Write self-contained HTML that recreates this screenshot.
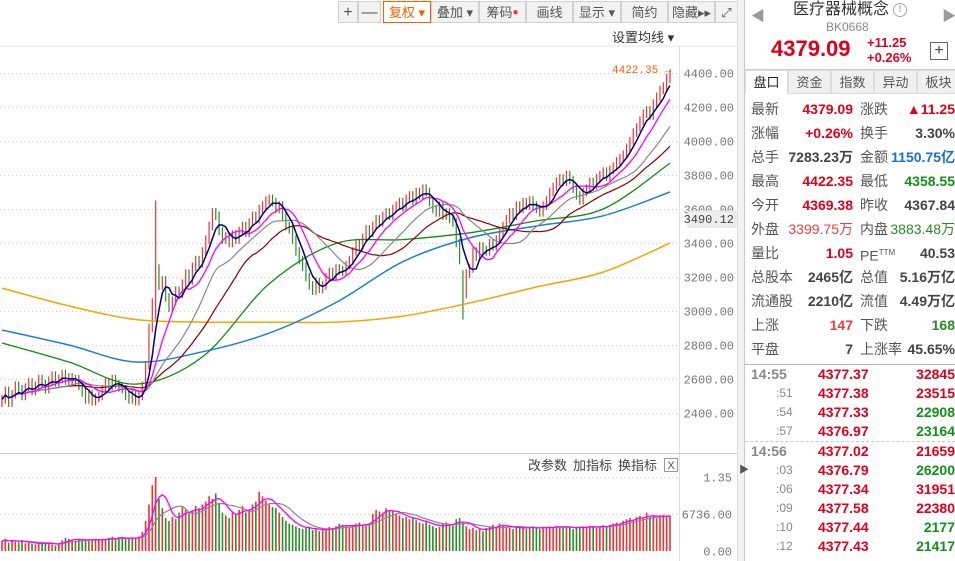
<!DOCTYPE html>
<html><head><meta charset="utf-8">
<style>
body{margin:0;width:955px;height:561px;overflow:hidden;background:#fff;font-family:"Liberation Sans","Noto Sans CJK SC",sans-serif;position:relative}
.abs{position:absolute}
.tb{position:absolute;top:1px;height:22px;border:1px solid #d0d0d0;background:#f2f2f2;color:#555;font-size:13px;line-height:22px;text-align:center;box-sizing:border-box}
.row{position:absolute;left:751px;width:204px;height:22px;font-size:14px;line-height:22px;color:#555}
.row span{position:absolute}
.l1{left:0}.v1{right:102px;font-weight:bold}.l2{left:109px}.v2{right:0;font-weight:bold}
.red{color:#e0001a}.grn{color:#11901b}.dk{color:#444}.blu{color:#1a6fd0}
.tr{position:absolute;left:751px;width:204px;height:19px;font-size:14px;line-height:19px;font-weight:bold}
.tr span{position:absolute}
.tab{position:absolute;top:70px;height:24px;width:43px;border:1px solid #ddd;background:#f0f0f0;color:#555;font-size:13px;line-height:24px;text-align:center;box-sizing:border-box}
</style></head><body>
<!-- toolbar -->
<div class="tb" style="left:338px;width:20px;font-size:16px">+</div>
<div class="tb" style="left:358px;width:23px;font-size:16px">—</div>
<div class="tb" style="left:383px;width:48px;border-color:#f06000;color:#f06000;background:#fff">复权 ▾</div>
<div class="tb" style="left:431px;width:48px">叠加 ▾</div>
<div class="tb" style="left:479px;width:47px">筹码<span style="color:#f33;font-size:10px;vertical-align:top">●</span></div>
<div class="tb" style="left:526px;width:47px">画线</div>
<div class="tb" style="left:573px;width:48px">显示 ▾</div>
<div class="tb" style="left:621px;width:47px">简约</div>
<div class="tb" style="left:668px;width:47px">隐藏▸▸</div>
<div class="tb" style="left:715px;width:23px">⤢</div>
<div class="abs" style="left:612px;top:27px;font-size:13px;color:#333">设置均线 ▾</div>

<svg id="chart" class="abs" style="left:0;top:0" width="745" height="561"></svg>

<!-- right panel -->
<div class="abs" style="left:737px;top:0;width:8px;height:561px;background:#f2f2f2;border-left:1px solid #ddd;border-right:1px solid #ccc;box-sizing:border-box"></div>
<div class="abs" style="left:739px;top:461px;font-size:10px;color:#555">▶</div>
<div class="abs" style="left:751px;top:6px;color:#999;font-size:14px">◀</div>
<div class="abs" style="left:942px;top:6px;color:#999;font-size:14px">▶</div>
<div class="abs" style="left:793px;top:0px;font-size:16px;line-height:20px;color:#333">医疗器械概念</div>
<div class="abs" style="left:893px;top:3px;width:12px;height:12px;border:1.5px solid #aaa;border-radius:50%;font-size:10px;line-height:12px;text-align:center;color:#aaa;font-weight:bold">!</div>
<div class="abs" style="left:826px;top:21px;font-size:12px;line-height:13px;color:#888">BK0668</div>
<div class="abs red" style="left:771px;top:36px;font-size:22px;font-weight:bold">4379.09</div>
<div class="abs red" style="left:867px;top:35px;font-size:13px;font-weight:bold">+11.25</div>
<div class="abs red" style="left:867px;top:50px;font-size:13px;font-weight:bold">+0.26%</div>
<div class="abs" style="left:930px;top:42px;width:16px;height:16px;border:1px solid #666;font-size:16px;line-height:15px;text-align:center;color:#444">+</div>
<div class="abs" style="left:745px;top:69px;width:210px;height:1px;background:#ccc"></div>
<div class="tab" style="left:745px;background:#fff;color:#222;border-bottom-color:#fff">盘口</div>
<div class="tab" style="left:788px">资金</div>
<div class="tab" style="left:831px">指数</div>
<div class="tab" style="left:874px">异动</div>
<div class="tab" style="left:917px">板块</div>

<div class="row" style="top:98px"><span class="l1">最新</span><span class="v1 red">4379.09</span><span class="l2">涨跌</span><span class="v2 red">▲11.25</span></div>
<div class="row" style="top:122px"><span class="l1">涨幅</span><span class="v1 red">+0.26%</span><span class="l2">换手</span><span class="v2 dk">3.30%</span></div>
<div class="row" style="top:146px"><span class="l1">总手</span><span class="v1 dk">7283.23万</span><span class="l2">金额</span><span class="v2 blu">1150.75亿</span></div>
<div class="row" style="top:170px"><span class="l1">最高</span><span class="v1 red">4422.35</span><span class="l2">最低</span><span class="v2 grn">4358.55</span></div>
<div class="row" style="top:194px"><span class="l1">今开</span><span class="v1 red">4369.38</span><span class="l2">昨收</span><span class="v2 dk">4367.84</span></div>
<div class="row" style="top:218px"><span class="l1">外盘</span><span class="v1" style="color:#e84040;font-weight:normal">3399.75万</span><span class="l2">内盘</span><span class="v2" style="color:#2a8a2a;font-weight:normal">3883.48万</span></div>
<div class="row" style="top:242px"><span class="l1">量比</span><span class="v1 red">1.05</span><span class="l2">PE<sup style="font-size:8px">TTM</sup></span><span class="v2 dk">40.53</span></div>
<div class="row" style="top:266px"><span class="l1">总股本</span><span class="v1 dk">2465亿</span><span class="l2">总值</span><span class="v2 dk">5.16万亿</span></div>
<div class="row" style="top:290px"><span class="l1">流通股</span><span class="v1 dk">2210亿</span><span class="l2">流值</span><span class="v2 dk">4.49万亿</span></div>
<div class="row" style="top:314px"><span class="l1">上涨</span><span class="v1" style="color:#e84040">147</span><span class="l2">下跌</span><span class="v2" style="color:#2a8a2a">168</span></div>
<div class="row" style="top:338px"><span class="l1">平盘</span><span class="v1 dk">7</span><span class="l2">上涨率</span><span class="v2 dk">45.65%</span></div>
<div class="abs" style="left:745px;top:364px;width:210px;height:1px;background:#bbb"></div>
<div id="trades"></div>
<div class="abs" style="left:745px;top:441px;width:210px;border-top:1px dashed #ccc"></div>

<script>
// ---- price data ----
const closes=[2480,2530,2460,2510,2560,2540,2500,2550,2580,2530,
2560,2600,2570,2540,2590,2620,2580,2600,2630,2590,
2610,2580,2600,2560,2520,2480,2510,2470,2490,2500,
2540,2580,2560,2600,2570,2550,2540,2500,2480,2510,
2470,2500,2560,2680,
2900,3050,3250,3150,3180,3080,3020,
3060,3120,3100,3160,3220,3180,3260,3300,3280,
3350,3420,3500,3580,3560,3470,3420,3440,3400,
3450,3420,3470,3500,3460,3520,3560,3540,3600,3620,3650,3660,3640,
3600,3620,3560,3500,3480,3420,3350,3300,3260,3200,3150,3120,3170,3130,3150,
3200,3230,3210,3250,3240,3230,3270,3300,3350,3400,3380,3430,3480,3460,3500,3540,3520,3560,3580,3560,
3600,3620,3640,3610,3660,3680,3650,3700,3680,3720,3700,3640,3600,3580,3620,3560,3580,3540,
3520,3400,3300,3100,3220,3250,3350,3320,3380,3360,3350,3400,3380,3420,3460,3500,
3540,3580,3560,3620,3600,3640,3620,3650,3620,3600,3580,3620,3650,3700,3730,3760,
3780,3760,3800,3770,3720,3680,3650,3700,3720,3760,3740,3780,3800,3820,3790,3830,3850,
3880,3900,3920,3960,4000,4050,4080,4120,4160,4180,4150,4220,4260,4300,4320,4370,4379];
const spikeIdx=[46,138,200];
const spikeHigh=[3650,3240,4422];
const spikeLow=[2950,2950,4340];
// long moving averages sampled every 20 bars (i=0,20,...,200)
const ma60=[2812,2700,2570,2730,3160,3397,3420,3460,3530,3600,3870];
const ma120=[2888,2800,2700,2760,2870,3050,3290,3430,3500,3560,3700];
const ma250=[3135,3030,2950,2935,2935,2935,2970,3047,3141,3229,3400];
const priceTicks=[4400,4200,4000,3800,3600,3400,3200,3000,2800,2600,2400];
// ---- volume data (万) ----
const volumes=[0.18,0.22,0.15,0.2,0.17,0.16,0.2,0.14,0.15,0.13,0.12,0.14,0.16,0.13,0.15,0.12,0.1,0.14,0.2,0.24,0.22,0.2,0.19,0.21,0.22,0.2,0.19,0.2,0.22,0.21,0.2,0.22,0.24,0.26,0.22,0.25,0.24,0.22,0.23,0.25,0.24,0.26,0.35,0.55,
0.85,1.2,1.35,0.95,0.78,0.6,0.55,
0.62,0.58,0.7,0.8,0.75,0.68,0.72,0.82,0.78,
0.85,0.9,1.0,0.95,1.05,0.88,0.7,0.65,0.6,
0.72,0.68,0.75,0.82,0.7,0.76,0.85,0.9,1.08,1.0,0.92,0.85,0.8,
0.78,0.7,0.62,0.55,0.5,0.48,0.45,0.42,0.4,0.42,0.44,0.38,0.4,0.36,0.38,
0.4,0.44,0.42,0.45,0.5,0.48,0.46,0.42,0.45,0.5,0.52,0.48,0.46,0.5,0.68,0.75,0.72,0.7,0.78,0.74,
0.72,0.68,0.65,0.6,0.62,0.58,0.6,0.56,0.52,0.5,0.55,0.48,0.45,0.42,0.44,0.5,0.52,0.48,
0.46,0.58,0.6,0.52,0.45,0.4,0.42,0.38,0.4,0.36,0.42,0.45,0.48,0.44,0.5,0.46,
0.44,0.42,0.4,0.43,0.45,0.42,0.4,0.43,0.45,0.42,0.4,0.44,0.42,0.45,0.43,0.46,
0.44,0.42,0.45,0.43,0.4,0.42,0.44,0.45,0.43,0.46,0.44,0.42,0.45,0.47,0.45,0.48,0.5,
0.52,0.5,0.55,0.58,0.6,0.56,0.62,0.64,0.6,0.7,0.62,0.65,0.6,0.62,0.66,0.64,0.65];
// ---- trade list ----
const tTimes=["14:55",":51",":54",":57","14:56",":03",":06",":09",":10",":12"];
const tPrices=["4377.37","4377.38","4377.33","4376.97","4377.02","4376.79","4377.34","4377.58","4377.44","4377.43"];
const tVols=["32845","23515","22908","23164","21659","26200","31951","22380","2177","21417"];
const tUp=[1,1,0,0,1,0,1,1,0,0];

const NS="http://www.w3.org/2000/svg";
const svg=document.getElementById('chart');
const N=closes.length;
const xOf=i=>2+i*3.34;
const yP=v=>73+(4400-v)*0.17;
const yV=v=>551-v/1.35*74;
function mk(tag,attrs,parent){const e=document.createElementNS(NS,tag);for(const k in attrs)e.setAttribute(k,attrs[k]);(parent||svg).appendChild(e);return e;}

let e;
e=mk('line',{x1:0,y1:46,x2:737,y2:46,stroke:'#e4e4e4'});


e=mk('line',{x1:679.5,y1:46,x2:679.5,y2:561,stroke:'#ddd'});


e=mk('line',{x1:0,y1:453.5,x2:737,y2:453.5,stroke:'#ccc'});



priceTicks.forEach(v=>{
  const y=Math.round(yP(v))+0.5;
  const g=mk('line',{x1:0,y1:y,x2:679,y2:y,stroke:'#ccc','stroke-dasharray':'1,3'});
  
  
  const t=mk('text',{x:734,y:y+4,'text-anchor':'end','font-size':12,fill:'#777','font-family':'Liberation Mono, monospace'});
  t.textContent=v.toFixed(2);
  
  
});
[[1.35,'1.35'],[0.6736,'6736.00'],[0,'0.00']].forEach(p=>{
  const y=Math.round(yV(p[0]))+0.5;
  if(p[0]>0){const g=mk('line',{x1:0,y1:y,x2:679,y2:y,stroke:'#ccc','stroke-dasharray':'1,3'});
  
  }
  const t=mk('text',{x:732,y:y+4,'text-anchor':'end','font-size':12,fill:'#777','font-family':'Liberation Mono, monospace'});
  t.textContent=p[1];
  
  
});

const opens=closes.map((c,i)=>i?closes[i-1]:c-20);
for(let i=0;i<N;i++){
  const o=opens[i],c=closes[i];
  let hi=Math.max(o,c)+25,lo=Math.min(o,c)-25;
  const s=spikeIdx.indexOf(i);
  if(s>=0){hi=spikeHigh[s];lo=spikeLow[s];}
  const up=c>=o;const col=up?'#ee3333':'#2b8c2b';
  const x=xOf(i);
  const w=mk('line',{x1:x,y1:yP(hi),x2:x,y2:yP(lo),stroke:col,'stroke-width':1.2});
  
  
}
function maSeries(p){return closes.map((c,i)=>{const s=Math.max(0,i-p+1);let t=0;for(let k=s;k<=i;k++)t+=closes[k];return t/(i-s+1);});}
function drawLine(vals,xs,yf,col,name,w){
  const pts=vals.map((v,k)=>xs(k).toFixed(1)+','+yf(v).toFixed(1)).join(' ');
  const l=mk('polyline',{points:pts,fill:'none',stroke:col,'stroke-width':w||1.3,'stroke-linejoin':'round'});
  
  
}
function drawSmooth(vals,xs,yf,col,name,w){
  const P=vals.map((v,k)=>[xs(k),yf(v)]);
  let d='M'+P[0][0].toFixed(1)+','+P[0][1].toFixed(1);
  for(let k=0;k<P.length-1;k++){
    const p0=P[Math.max(0,k-1)],p1=P[k],p2=P[k+1],p3=P[Math.min(P.length-1,k+2)];
    const c1=[p1[0]+(p2[0]-p0[0])/6,p1[1]+(p2[1]-p0[1])/6];
    const c2=[p2[0]-(p3[0]-p1[0])/6,p2[1]-(p3[1]-p1[1])/6];
    d+=' C'+c1[0].toFixed(1)+','+c1[1].toFixed(1)+' '+c2[0].toFixed(1)+','+c2[1].toFixed(1)+' '+p2[0].toFixed(1)+','+p2[1].toFixed(1);
  }
  const l=mk('path',{d:d,fill:'none',stroke:col,'stroke-width':w});
  
  
}
drawSmooth(ma250,k=>xOf(k*20),yP,'#f5a400','ma250-line',1.5);
drawSmooth(ma120,k=>xOf(k*20),yP,'#1f7fd6','ma120-line',1.5);
drawSmooth(ma60,k=>xOf(k*20),yP,'#138a13','ma60-line',1.3);
drawLine(maSeries(30),xOf,yP,'#8b0000','ma30-line',1.2);
drawLine(maSeries(20),xOf,yP,'#888','ma20-line',1.2);
drawLine(maSeries(10),xOf,yP,'#ff00ff','ma10-line',1.3);
drawLine(maSeries(5),xOf,yP,'#000080','ma5-line',1.5);

volumes.forEach((v,i)=>{
  if(i>=N)return;
  const up=closes[i]>=opens[i];
  const b=mk('rect',{x:xOf(i)-0.8,y:yV(v),width:1.6,height:551-yV(v),fill:up?'#ee3333':'#2b8c2b'});
  
  
});
function vma(p){return volumes.map((c,i)=>{const s=Math.max(0,i-p+1);let t=0;for(let k=s;k<=i;k++)t+=volumes[k];return t/(i-s+1);});}
drawLine(vma(10),xOf,yV,'#888','volume-ma10-line',1.2);
drawLine(vma(5),xOf,yV,'#ff00ff','volume-ma5-line',1.3);

let t=mk('text',{x:612,y:73,'font-size':11,fill:'#f06000','font-family':'Liberation Mono, monospace'});
t.textContent='4422.35 →';


let r=mk('rect',{x:688,y:211,width:48,height:16,fill:'#eee',stroke:'#ddd'});


t=mk('text',{x:734,y:223,'text-anchor':'end','font-size':12,fill:'#444','font-family':'Liberation Mono, monospace'});
t.textContent='3490.12';


[['改参数',528,'edit-params-button'],['加指标',573,'add-indicator-button'],['换指标',618,'switch-indicator-button']].forEach(a=>{
  const tt=mk('text',{x:a[1],y:470,'font-size':13,fill:'#444'});
  tt.textContent=a[0];
  
  
});
r=mk('rect',{x:664.5,y:458.5,width:13,height:13,fill:'#fff',stroke:'#999'});


t=mk('text',{x:671,y:469,'text-anchor':'middle','font-size':11,fill:'#555'});
t.textContent='X';



const tc=document.getElementById('trades');
tTimes.forEach((tm,k)=>{
  const d=document.createElement('div');
  d.className='tr';
  d.style.top=(365+k*19+(k>=4?1:0))+'px';
  
  
  const big=tm.length>3;
  d.innerHTML='<span style="left:'+(big?0:25)+'px;color:#888;font-weight:'+(big?'bold':'normal')+';font-size:'+(big?14:12)+'px">'+tm+'</span><span style="left:67px;color:#e0001a">'+tPrices[k]+'</span><span style="right:0;color:'+(tUp[k]?'#e0001a':'#11901b')+'">'+tVols[k]+'</span>';
  tc.appendChild(d);
});
</script>
</body></html>
